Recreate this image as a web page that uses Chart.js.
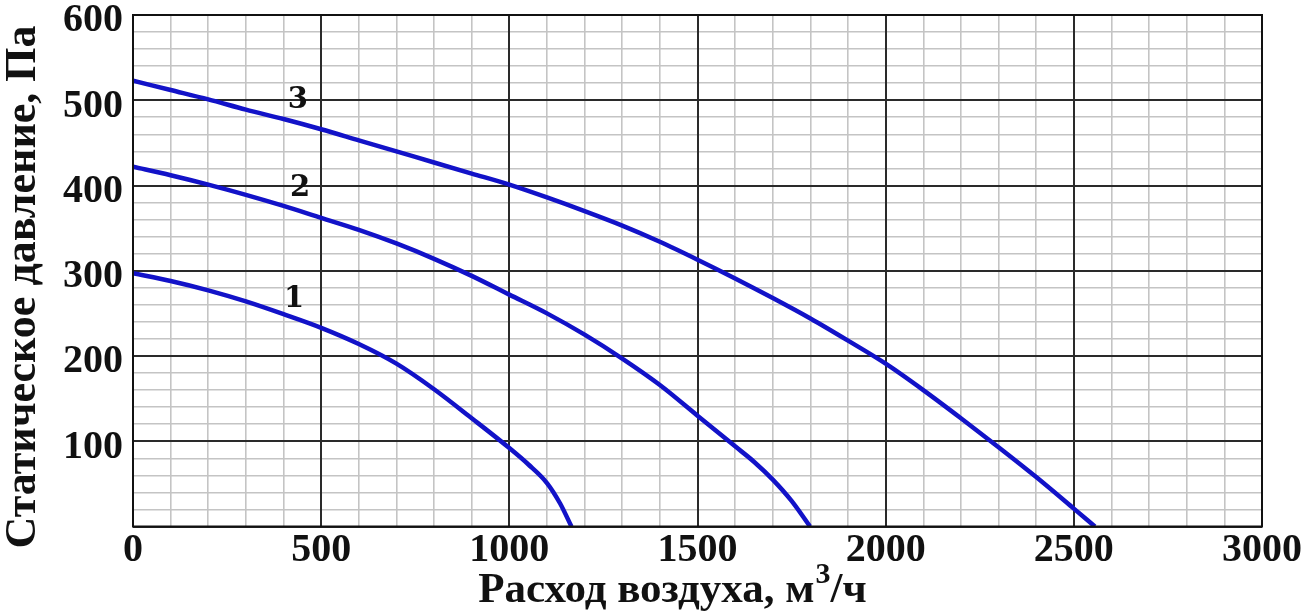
<!DOCTYPE html>
<html>
<head>
<meta charset="utf-8">
<script src="https://cdn.jsdelivr.net/npm/chart.js@4/dist/chart.umd.min.js"></script>
<style>
html,body{margin:0;padding:0;background:#fff;}
#wrap{width:1311px;height:614px;position:relative;}
</style>
</head>
<body>
<div id="wrap"><canvas id="c" width="1311" height="614"></canvas></div>
<script>
// ---- data ----
const flow1 = [0,100,200,300,400,500,600,700,800,900,1000,1050,1100,1135,1165];
const pressure1 = [297,288,277,264,249,233,214,191,161,127,92,73,51,27,0];

const flow2 = [0,100,200,300,400,500,600,700,800,900,1000,1100,1200,1300,1400,1500,1600,1650,1700,1750,1799];
const pressure2 = [422,412,401,389,376,362,348,332,314,294,272,250,225,197,166,130,94,76,55,30,0];

const flow3 = [0,100,200,300,400,500,600,700,800,900,1000,1100,1200,1300,1400,1500,1600,1700,1800,1900,2000,2100,2200,2300,2400,2500,2556];
const pressure3 = [523,512,501,489,478,466,453,440,427,414,401,386,370,353,334,313,291,268,244,218,191,160,127,93,58,21,0];

const curveNames = ['1','2','3'];
const curveLabelFlow = [428,444,438];
const curveLabelPressure = [266,397,500];

const xTickLabels = [0,500,1000,1500,2000,2500,3000];
const yTickLabels = [100,200,300,400,500,600];

const xTitleMain = 'Расход воздуха, м';
const xTitleSup = '3';
const xTitleEnd = '/ч';
const yTitle = 'Статическое давление, Па';

const BLUE = '#1212c8';
const FONT = '"Liberation Serif","Times New Roman",serif';

function pts(xs, ys){ return xs.map((x,i)=>({x:x, y:ys[i]})); }

const lineDs = (data) => ({
  data: data, showLine: true, borderColor: BLUE, backgroundColor: BLUE,
  borderWidth: 4.5, pointRadius: 0, cubicInterpolationMode: 'monotone', fill: false
});

const frameAndLabels = {
  id: 'frameAndLabels',
  beforeDatasetsDraw(chart){
    const ctx = chart.ctx, a = chart.chartArea;
    const xs = chart.scales.x, ys = chart.scales.y;
    ctx.save();
    ctx.strokeStyle = '#2a2a2a';
    ctx.lineWidth = 2;
    xTickLabels.forEach(v=>{
      const px = Math.round(xs.getPixelForValue(v));
      ctx.beginPath(); ctx.moveTo(px, a.top); ctx.lineTo(px, a.bottom); ctx.stroke();
    });
    yTickLabels.forEach(v=>{
      const py = Math.round(ys.getPixelForValue(v));
      ctx.beginPath(); ctx.moveTo(a.left, py); ctx.lineTo(a.right, py); ctx.stroke();
    });
    ctx.restore();
  },
  afterDatasetsDraw(chart){
    const ctx = chart.ctx, a = chart.chartArea;
    const xs = chart.scales.x, ys = chart.scales.y;
    ctx.save();
    ctx.strokeStyle = '#111';
    ctx.lineWidth = 2;
    ctx.strokeRect(a.left, a.top, a.right - a.left, a.bottom - a.top);
    ctx.fillStyle = '#111';
    ctx.font = 'bold 29px "DejaVu Serif", serif';
    ctx.textAlign = 'center';
    ctx.textBaseline = 'middle';
    curveNames.forEach((n,i)=>{
      ctx.fillText(n, xs.getPixelForValue(curveLabelFlow[i]), ys.getPixelForValue(curveLabelPressure[i]));
    });
    // x-axis title with superscript
    const big = 'bold 43px ' + FONT, sup = 'bold 30px ' + FONT;
    ctx.textAlign = 'left';
    ctx.textBaseline = 'alphabetic';
    ctx.font = big;
    const w1 = ctx.measureText(xTitleMain).width;
    ctx.font = sup;
    const w2 = ctx.measureText(xTitleSup).width;
    ctx.font = big;
    const w3 = ctx.measureText(xTitleEnd).width;
    const total = w1 + w2 + w3;
    const cx = 672, base = 602;
    let x0 = cx - total/2;
    ctx.font = big; ctx.fillText(xTitleMain, x0, base);
    ctx.font = sup; ctx.fillText(xTitleSup, x0 + w1 + 1, base - 19);
    ctx.font = big; ctx.fillText(xTitleEnd, x0 + w1 + w2 + 1, base);
    // y-axis title (rotated)
    ctx.save();
    ctx.translate(24, 287);
    ctx.rotate(-Math.PI/2);
    ctx.textAlign = 'center';
    ctx.textBaseline = 'middle';
    ctx.font = 'bold 44px ' + FONT;
    ctx.fillText(yTitle, 0, 0);
    ctx.restore();
    ctx.restore();
  }
};

new Chart(document.getElementById('c'), {
  type: 'scatter',
  data: { datasets: [ lineDs(pts(flow1,pressure1)), lineDs(pts(flow2,pressure2)), lineDs(pts(flow3,pressure3)) ] },
  options: {
    responsive: false,
    animation: false,
    layout: { padding: { top: 15, right: 49, left: 0, bottom: 0 } },
    plugins: { legend: { display: false }, tooltip: { enabled: false }, title: { display: false } },
    scales: {
      x: {
        type: 'linear', min: 0, max: 3000,
        afterBuildTicks(s){ const t=[]; for(let v=0; v<=3000; v+=100) t.push({value:v}); s.ticks = t; },
        afterFit(s){ s.height = 87.5; s.paddingLeft = 0; s.paddingRight = 0; },
        ticks: {
          autoSkip: false, maxRotation: 0, padding: 0,
          color: '#111',
          font: { family: FONT, weight: 'bold', size: 40 },
          callback: (v) => xTickLabels.includes(v) ? String(v) : ''
        },
        grid: {
          drawTicks: false,
          color: (c) => (c.tick && c.tick.value % 500 === 0) ? '#2a2a2a' : '#c4c4c4',
          lineWidth: (c) => (c.tick && c.tick.value % 500 === 0) ? 2 : 1.6
        },
        border: { display: false },
        title: { display: false }
      },
      y: {
        type: 'linear', min: 0, max: 600,
        afterBuildTicks(s){ const t=[]; for(let v=0; v<=600; v+=20) t.push({value:v}); s.ticks = t; },
        afterFit(s){ s.width = 133; s.paddingTop = 0; s.paddingBottom = 0; },
        ticks: {
          autoSkip: false, padding: 10, labelOffset: 6,
          color: '#111',
          font: { family: FONT, weight: 'bold', size: 40 },
          callback: (v) => yTickLabels.includes(v) ? String(v) : ''
        },
        grid: {
          drawTicks: false,
          color: (c) => (c.tick && c.tick.value % 100 === 0) ? '#2a2a2a' : '#c4c4c4',
          lineWidth: (c) => (c.tick && c.tick.value % 100 === 0) ? 2 : 1.6
        },
        border: { display: false },
        title: { display: false }
      }
    }
  },
  plugins: [frameAndLabels]
});
</script>
</body>
</html>
